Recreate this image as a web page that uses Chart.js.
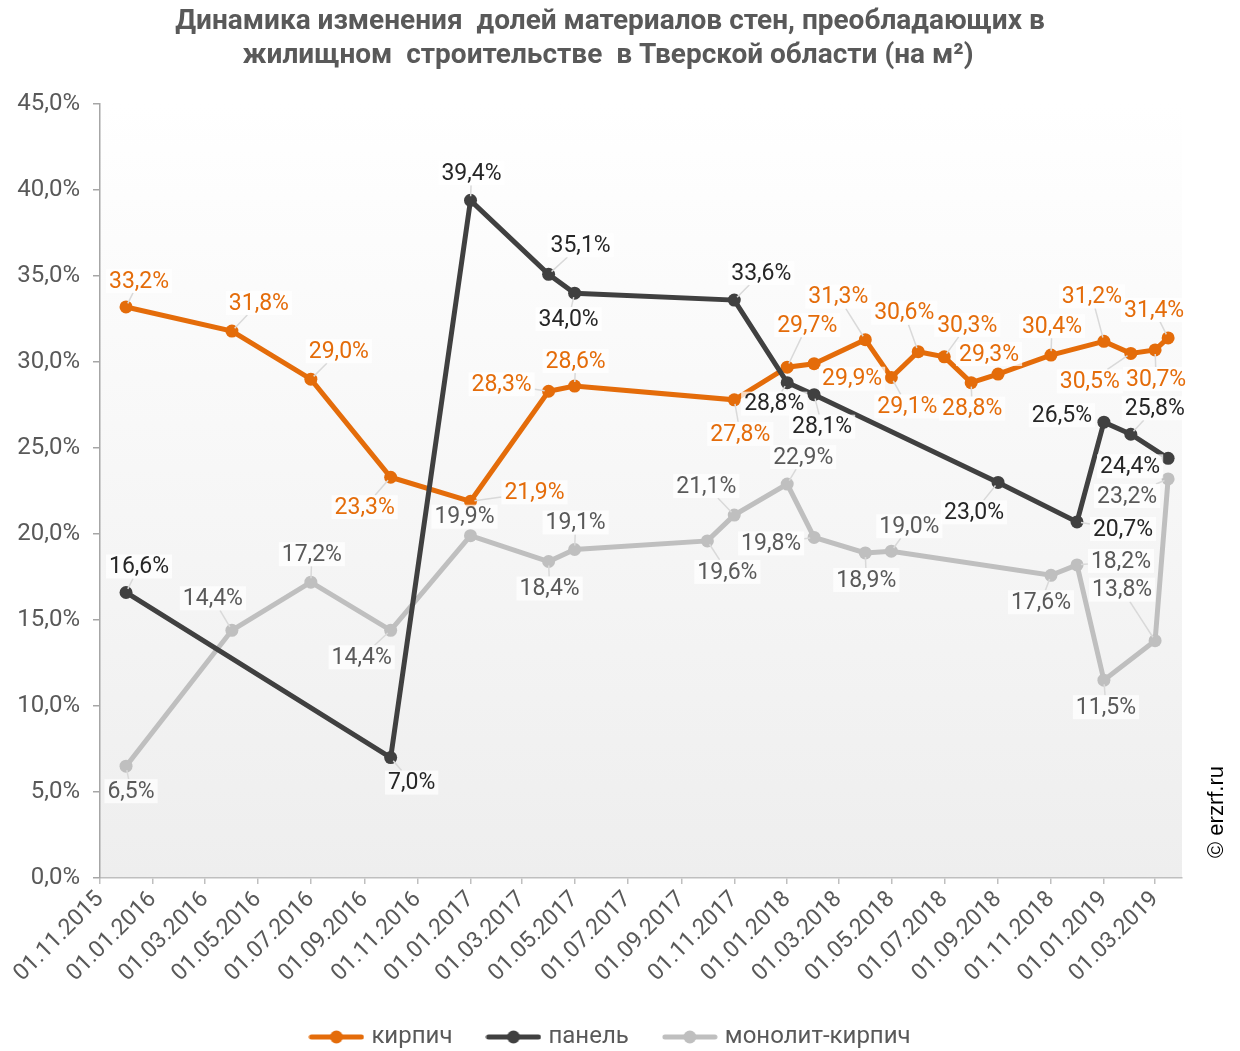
<!DOCTYPE html>
<html>
<head>
<meta charset="utf-8">
<script src="https://cdn.jsdelivr.net/npm/chart.js@4.4.1/dist/chart.umd.min.js"></script>
<style>
  body { margin: 0; background: #fff; }
  #wrap { width: 1240px; height: 1051px; }
</style>
</head>
<body>
<div id="wrap"><canvas id="chart"></canvas></div>
<script>
const titleLines = [
  "Динамика изменения  долей материалов стен, преобладающих в",
  "жилищном  строительстве  в Тверской области (на м²)"
];
const seriesNames = ["кирпич", "панель", "монолит-кирпич"];
const tickLabels = [
  "01.11.2015", "01.01.2016", "01.03.2016", "01.05.2016", "01.07.2016",
  "01.09.2016", "01.11.2016", "01.01.2017", "01.03.2017", "01.05.2017",
  "01.07.2017", "01.09.2017", "01.11.2017", "01.01.2018", "01.03.2018",
  "01.05.2018", "01.07.2018", "01.09.2018", "01.11.2018", "01.01.2019",
  "01.03.2019"
];
const axisStart = "01.11.2015";
const axisEnd = "01.04.2019";

const brickDates = [
  "01.12.2015", "01.04.2016", "01.07.2016", "01.10.2016", "01.01.2017",
  "01.04.2017", "01.05.2017", "01.11.2017", "01.01.2018", "01.02.2018",
  "01.04.2018", "01.05.2018", "01.06.2018", "01.07.2018", "01.08.2018",
  "01.09.2018", "01.11.2018", "01.01.2019", "01.02.2019", "01.03.2019",
  "16.03.2019"
];
const brickValues = [33.2, 31.8, 29.0, 23.3, 21.9, 28.3, 28.6, 27.8, 29.7, 29.9,
  31.3, 29.1, 30.6, 30.3, 28.8, 29.3, 30.4, 31.2, 30.5, 30.7, 31.4];

const panelDates = [
  "01.12.2015", "01.10.2016", "01.01.2017", "01.04.2017", "01.05.2017",
  "01.11.2017", "01.01.2018", "01.02.2018", "01.09.2018", "01.12.2018",
  "01.01.2019", "01.02.2019", "16.03.2019"
];
const panelValues = [16.6, 7.0, 39.4, 35.1, 34.0, 33.6, 28.8, 28.1, 23.0, 20.7, 26.5, 25.8, 24.4];

const monoDates = [
  "01.12.2015", "01.04.2016", "01.07.2016", "01.10.2016", "01.01.2017",
  "01.04.2017", "01.05.2017", "01.10.2017", "01.11.2017", "01.01.2018",
  "01.02.2018", "01.04.2018", "01.05.2018", "01.11.2018", "01.12.2018",
  "01.01.2019", "01.03.2019", "16.03.2019"
];
const monoValues = [6.5, 14.4, 17.2, 14.4, 19.9, 18.4, 19.1, 19.6, 21.1, 22.9,
  19.8, 18.9, 19.0, 17.6, 18.2, 11.5, 13.8, 23.2];

// where each value label sits relative to its point (px)
const brickLabelPos = [[13,-26],[27,-28],[28,-28],[-26,30],[64,-9],[-47,-7],[1,-25],[6,34],[20,-42],[38,15],
  [-27,-43],[16,29],[-14,-39],[23,-32],[1,26],[-9,-20],[1,-29],[-12,-45],[-41,28],[1,29],[-14,-28]];
const panelLabelPos = [[13,-26],[21,25],[1,-27],[32,-29],[-6,26],[27,-27],[-13,21],[8,32],[-24,30],[46,7],
  [-42,-7],[24,-26],[-38,8]];
const monoLabelPos = [[5,25],[-19,-32],[1,-28],[-29,27],[-6,-19],[1,27],[1,-27],[20,31],[-28,-29],[16,-27],
  [-43,6],[1,27],[18,-25],[-10,27],[44,-4],[2,27],[-33,-51],[-41,17]];

const colors = ["#e46c0a", "#404040", "#bfbfbf"];
const labelColors = ["#e46c0a", "#262626", "#595959"];

function toDay(s) {
  const p = s.split(".");
  return Date.UTC(+p[2], +p[1] - 1, +p[0]) / 864e5;
}
function fmtDay(v) {
  const d = new Date(v * 864e5);
  const dd = String(d.getUTCDate()).padStart(2, "0");
  const mm = String(d.getUTCMonth() + 1).padStart(2, "0");
  return dd + "." + mm + "." + d.getUTCFullYear();
}
const pct = v => v.toFixed(1).replace(".", ",") + "%";

function legendIcon(color) {
  const c = document.createElement("canvas");
  c.width = 56; c.height = 14;
  const g = c.getContext("2d");
  g.strokeStyle = color; g.lineWidth = 5; g.lineCap = "round";
  g.beginPath(); g.moveTo(3, 7); g.lineTo(53, 7); g.stroke();
  g.fillStyle = color;
  g.beginPath(); g.arc(28, 7, 6.5, 0, Math.PI * 2); g.fill();
  return c;
}
const legendIcons = colors.map(legendIcon);

const mk = (dates, values) => dates.map((d, i) => ({ x: toDay(d), y: values[i] }));

const chartBg = {
  id: "chartBg",
  beforeDraw(chart) {
    const { ctx, chartArea: a } = chart;
    const g = ctx.createLinearGradient(0, a.top, 0, a.bottom);
    g.addColorStop(0, "#ffffff");
    g.addColorStop(1, "#eeeeee");
    ctx.save();
    ctx.fillStyle = g;
    ctx.fillRect(a.left, a.top, a.right - a.left, a.bottom - a.top);
    ctx.restore();
  },
  afterDraw(chart) {
    const ctx = chart.ctx;
    ctx.save();
    ctx.fillStyle = "#595959";
    ctx.font = "bold 28px Roboto";
    ctx.textAlign = "center";
    ctx.textBaseline = "middle";
    ctx.fillText(titleLines[0], 610, 22);
    ctx.fillText(titleLines[1], 608, 56);
    // watermark
    ctx.translate(1217, 812);
    ctx.rotate(-Math.PI / 2);
    ctx.fillStyle = "#000";
    ctx.font = "22px 'Liberation Sans', Arial";
    ctx.fillText("© erzrf.ru", 0, 0);
    ctx.restore();
  }
};

const pointLabels = {
  id: "pointLabels",
  afterDatasetsDraw(chart) {
    const ctx = chart.ctx;
    const offs = [brickLabelPos, panelLabelPos, monoLabelPos];
    ctx.save();
    ctx.font = "23px Roboto";
    ctx.textAlign = "center";
    ctx.textBaseline = "middle";
    const items = [];
    chart.data.datasets.forEach((ds, di) => {
      chart.getDatasetMeta(di).data.forEach((pt, i) => {
        const text = pct(ds.data[i].y);
        const w = ctx.measureText(text).width + 6, h = 24;
        const cx = pt.x + offs[di][i][0], cy = pt.y + offs[di][i][1];
        items.push({ px: pt.x, py: pt.y, cx, cy, w, h, text, color: labelColors[di] });
      });
    });
    // leader lines
    ctx.strokeStyle = "#d9d9d9";
    ctx.lineWidth = 1.5;
    items.forEach(it => {
      const dx = it.cx - it.px, dy = it.cy - it.py;
      const len = Math.hypot(dx, dy);
      const k = Math.min(dx ? (it.w / 2) / Math.abs(dx) : 1e9, dy ? (it.h / 2) / Math.abs(dy) : 1e9);
      const t = 1 - k;
      if (t <= 0) return;
      const s = 4 / len;
      if ((t - s) * len < 6) return;
      ctx.beginPath();
      ctx.moveTo(it.px + dx * s, it.py + dy * s);
      ctx.lineTo(it.px + dx * t, it.py + dy * t);
      ctx.stroke();
    });
    items.forEach(it => {
      ctx.fillStyle = "rgba(255,255,255,0.75)";
      ctx.fillRect(it.cx - it.w / 2, it.cy - it.h / 2, it.w, it.h);
      ctx.fillStyle = it.color;
      ctx.fillText(it.text, it.cx, it.cy + 1);
    });
    ctx.restore();
  }
};

const lineDs = (label, data, i, order) => ({
  label, data, order,
  borderColor: colors[i],
  backgroundColor: colors[i],
  borderWidth: 5,
  pointRadius: 6.5,
  pointHoverRadius: 6.5,
  pointBorderWidth: 0,
  tension: 0
});

new Chart(document.getElementById("chart"), {
  type: "line",
  data: {
    datasets: [
      lineDs(seriesNames[0], mk(brickDates, brickValues), 0, 1),
      lineDs(seriesNames[1], mk(panelDates, panelValues), 1, 0),
      lineDs(seriesNames[2], mk(monoDates, monoValues), 2, 2)
    ]
  },
  plugins: [chartBg, pointLabels],
  options: {
    responsive: true,
    maintainAspectRatio: false,
    animation: false,
    layout: { padding: { top: 104, left: 0, right: 16, bottom: -8 } },
    plugins: {
      title: { display: false },
      tooltip: { enabled: false },
      legend: {
        position: "bottom",
        labels: {
          usePointStyle: true,
          pointStyleWidth: 46,
          padding: 38,
          color: "#595959",
          font: { family: "Roboto", size: 24 },
          sort: (a, b) => a.datasetIndex - b.datasetIndex,
          generateLabels(chart) {
            const items = Chart.defaults.plugins.legend.labels.generateLabels(chart);
            items.forEach(it => { it.pointStyle = legendIcons[it.datasetIndex]; });
            return items;
          }
        }
      }
    },
    scales: {
      x: {
        type: "linear",
        min: toDay(axisStart),
        max: toDay(axisEnd),
        afterBuildTicks(scale) {
          scale.ticks = tickLabels.map(t => ({ value: toDay(t) }));
        },
        afterFit(scale) { scale.height = 109; },
        grid: { drawOnChartArea: false, drawTicks: true, tickLength: 6, color: "#bfbfbf", lineWidth: 1.5 },
        border: { color: "#bfbfbf", width: 1.5 },
        ticks: {
          autoSkip: false,
          minRotation: 45,
          maxRotation: 45,
          padding: 2,
          color: "#595959",
          font: { family: "Roboto", size: 23 },
          callback: v => fmtDay(v)
        }
      },
      y: {
        min: 0,
        max: 45,
        afterFit(scale) { scale.width = 100; },
        grid: { drawOnChartArea: false, drawTicks: true, tickLength: 7, color: "#a6a6a6", lineWidth: 1.5 },
        border: { color: "#a6a6a6", width: 1.5 },
        ticks: {
          stepSize: 5,
          padding: 13,
          color: "#595959",
          font: { family: "Roboto", size: 24 },
          callback: v => pct(v)
        }
      },
      // empty right-hand strip that holds the watermark
      side: {
        position: "right",
        afterFit(scale) { scale.width = 42; },
        ticks: { display: false },
        grid: { display: false },
        border: { display: false }
      }
    }
  }
});
</script>
</body>
</html>
